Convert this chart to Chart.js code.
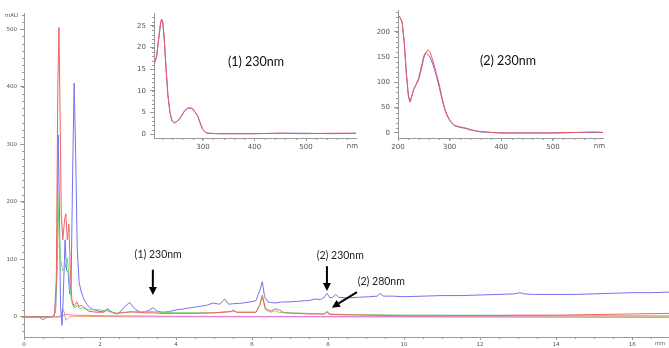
<!DOCTYPE html>
<html><head><meta charset="utf-8">
<script src="https://cdn.jsdelivr.net/npm/chart.js@4"></script>
<style>
html,body{margin:0;padding:0;background:#fff;}
#wrap{position:relative;width:669px;height:348px;overflow:hidden;}
canvas{position:absolute;}
</style></head><body>
<div id="wrap">
<canvas id="main" width="669" height="348" style="left:0;top:0"></canvas>
<canvas id="in1" width="240" height="155" style="left:125px;top:0"></canvas>
<canvas id="in2" width="245" height="155" style="left:370px;top:0"></canvas>
</div>
<script>
// ---------- Chromatogram data (time in min, absorbance in mAU) ----------
const tBlue = [0,0.40,0.45,0.52,0.58,0.65,0.78,0.83,0.87,0.90,0.93,0.96,1.00,1.03,1.08,1.12,1.16,1.20,1.24,1.28,1.32,1.36,1.40,1.45,1.50,1.58,1.65,1.75,1.85,2.00,2.10,2.20,2.30,2.45,2.55,2.65,2.78,2.90,3.05,3.20,3.30,3.40,3.50,3.65,3.80,4.00,4.20,4.40,4.60,4.80,4.97,5.15,5.28,5.38,5.55,5.75,5.95,6.10,6.20,6.27,6.33,6.42,6.60,6.80,7.00,7.20,7.40,7.55,7.65,7.80,7.90,7.97,8.05,8.12,8.20,8.28,8.50,8.80,9.10,9.30,9.37,9.45,9.70,10.0,10.5,11.0,11.5,12.0,12.5,12.9,13.05,13.15,13.4,14.0,14.5,15.0,15.5,16.0,16.5,16.97];
const vBlue = [0,0,-3,-5,-1,0,1,10,80,316,200,20,-15,30,134,80,78,40,60,250,406,280,120,60,45,30,22,15,12,9,10,13,8,5,10,18,25,15,8,9,12,16,10,8,9,12,14,16,18,20,24,22,31,22,23,24,26,28,45,61,35,26,24,26,26,27,28,29,31,30,34,41,33,34,39,34,33,34,35,36,41,36,36,35,36,37,37,38,39,40,42,40,39,39,39,40,41,42,42,43];

const tRed = [0,0.75,0.80,0.85,0.89,0.92,0.95,0.98,1.02,1.07,1.10,1.14,1.18,1.22,1.26,1.32,1.39,1.45,1.52,1.58,1.70,1.90,2.10,2.20,2.28,2.40,2.60,2.80,3.00,3.20,3.40,3.60,4.00,4.50,5.00,5.45,5.50,5.60,6.10,6.20,6.27,6.35,6.50,6.60,6.72,6.85,7.50,7.90,7.97,8.05,9.0,10.0,12.0,13.0,14.0,15.0,16.0,16.97];
const vRed = [0,0,5,60,400,503,350,180,134,170,179,134,161,80,30,18,26,18,20,16,10,8,8,14,10,6,7,9,8,7,7,6,6,6,7,9,12,8,8,20,38,15,10,14,12,7,5,5,8,4,3,2,2,3,3,4,5,6];

const tGreen = [0,0.78,0.83,0.87,0.89,0.92,0.96,1.02,1.08,1.14,1.18,1.22,1.28,1.34,1.40,1.46,1.55,1.70,1.85,2.00,2.20,2.30,2.45,2.60,2.80,3.00,3.40,3.60,4.00,4.50,5.00,5.50,5.60,6.10,6.20,6.27,6.35,6.50,6.60,6.70,7.00,7.50,7.90,7.97,8.05,8.50,10.0,12.0,14.0,16.97];
const vGreen = [0,0,10,120,211,150,100,80,85,102,75,40,20,15,20,14,16,12,13,12,10,8,6,8,8,9,9,8,7,7,7,10,8,8,20,35,12,8,11,8,7,6,5,10,5,4,3,3,2,2];

const tMagenta = [0,0.95,1.00,1.10,1.30,2.00,4.00,8.00,12.0,16.97];
const vMagenta = [0,0,2,4,3,2,1,0.5,0,-1];

const tOrange = [0,0.95,0.98,1.02,1.06,1.10,1.15,1.20,1.30,3.00,8.00,16.97];
const vOrange = [0,0,5,14,8,-6,-3,0,1,0,0,0];

const xTickValues = [0,2,4,6,8,10,12,14,16];
const yTickValues = [0,100,200,300,400,500];

// ---------- UV spectra (wavelength nm, mAU) ----------
const wl1 = [205,210,214,218,220,222,225,228,232,236,240,245,250,255,260,265,270,275,280,285,290,295,300,305,310,330,400,450,500,550,597];
const spec1Red  = [16.4,18,22,26,26.6,26,22,16,9,5,3,2.6,3,3.5,4.5,5.4,5.9,6.1,5.9,5,4.2,2.5,1,0.4,0.2,0.1,0.1,0.2,0.1,0.2,0.2];
const spec1Blue = [16.2,17.8,21.8,25.8,26.4,25.8,21.8,15.8,8.9,5,3,2.6,3,3.6,4.6,5.5,6.0,6.0,5.8,5,4.1,2.4,1,0.4,0.2,0.1,0.1,0.2,0.2,0.1,0.2];
const inset1XTicks = [300,400,500];
const inset1YTicks = [0,5,10,15,20,25];

const wl2 = [200,204,208,212,216,220,223,226,230,235,240,245,250,253,255,258,262,266,270,275,280,285,290,295,300,305,310,320,330,340,350,360,380,400,450,500,550,580,597];
const spec2Red  = [233,228,219,180,120,75,61,70,85,95,105,125,148,156,160,164,160,148,134,115,95,71,50,36,26,19,15,12,10,7,4,3,1,0,0,0,1,2,1];
const spec2Blue = [233,228,219,180,120,75,61,70,85,96,108,130,152,158,158,155,150,140,128,110,90,68,48,34,25,18,14,11,9,6,4,2,1,0,0,0,1,1,1];
const inset2XTicks = [200,300,400,500];
const inset2YTicks = [0,50,100,150,200];

const pts = (xs, ys) => xs.map((x, i) => ({x, y: ys[i]}));

function lineDS(label, xs, ys, color, w) {
  return {label, data: pts(xs, ys), borderColor: color, borderWidth: w || 1,
    pointRadius: 0, fill: false, tension: 0, spanGaps: true};
}

function drawArrow(ctx, x1, y1, x2, y2) {
  const ang = Math.atan2(y2 - y1, x2 - x1);
  const hl = 8, hw = 4;
  const bx = x2 - hl * Math.cos(ang), by = y2 - hl * Math.sin(ang);
  ctx.strokeStyle = '#000'; ctx.fillStyle = '#000'; ctx.lineWidth = 2;
  ctx.beginPath(); ctx.moveTo(x1, y1); ctx.lineTo(bx, by); ctx.stroke();
  ctx.beginPath();
  ctx.moveTo(x2, y2);
  ctx.lineTo(bx + hw * Math.sin(ang), by - hw * Math.cos(ang));
  ctx.lineTo(bx - hw * Math.sin(ang), by + hw * Math.cos(ang));
  ctx.closePath(); ctx.fill();
}

const axisColor = '#9a9a9a';
const tickColor = '#555';

Chart.defaults.animation = false;

// ---------- main chromatogram ----------
const mainDecor = {
  id: 'mainDecor',
  afterDraw(chart) {
    const {ctx, scales: {x, y}} = chart;
    ctx.save();
    ctx.strokeStyle = axisColor; ctx.lineWidth = 1;
    for (let v = -25; v <= 525; v += 12.5) {
      const py = Math.round(y.getPixelForValue(v)) + 0.5;
      ctx.beginPath(); ctx.moveTo(x.left - 2, py); ctx.lineTo(x.left, py); ctx.stroke();
    }
    for (let t = 0.5; t <= 16.9; t += 0.5) {
      const px = Math.round(x.getPixelForValue(t)) + 0.5;
      ctx.beginPath(); ctx.moveTo(px, y.bottom); ctx.lineTo(px, y.bottom + 2); ctx.stroke();
    }
    ctx.fillStyle = tickColor;
    ctx.font = '5.5px "DejaVu Sans"';
    ctx.textBaseline = 'middle';
    ctx.textAlign = 'left';
    ctx.fillText('mAU', 5, 16);
    ctx.fillText('min', x.getPixelForValue(16.6), 344);
    // annotations
    ctx.fillStyle = '#222';
    ctx.font = '10.5px Lato';
    ctx.textAlign = 'center';
    ctx.fillText('(1) 230nm', x.getPixelForValue(3.53), y.getPixelForValue(108));
    ctx.fillText('(2) 230nm', x.getPixelForValue(8.32), y.getPixelForValue(106));
    ctx.textAlign = 'left';
    ctx.fillText('(2) 280nm', x.getPixelForValue(8.78), y.getPixelForValue(61));
    drawArrow(ctx, x.getPixelForValue(3.39), y.getPixelForValue(82), x.getPixelForValue(3.39), y.getPixelForValue(38));
    drawArrow(ctx, x.getPixelForValue(7.97), y.getPixelForValue(88), x.getPixelForValue(7.97), y.getPixelForValue(45));
    drawArrow(ctx, x.getPixelForValue(8.76), y.getPixelForValue(43), x.getPixelForValue(8.1), y.getPixelForValue(16));
    ctx.restore();
  }
};

new Chart(document.getElementById('main'), {
  type: 'line',
  data: {datasets: [
    lineDS('red', tRed, vRed, '#f06262'),
    lineDS('green', tGreen, vGreen, '#66e066'),
    lineDS('blue', tBlue, vBlue, '#7373f0'),
    lineDS('magenta', tMagenta, vMagenta, '#e07ae0'),
    lineDS('orange', tOrange, vOrange, '#f0a060')
  ]},
  options: {
    responsive: false, devicePixelRatio: 1, animation: false,
    layout: {padding: {top: 13, right: 0, left: 0, bottom: 0}},
    plugins: {legend: {display: false}, tooltip: {enabled: false}},
    scales: {
      x: {type: 'linear', min: 0, max: 16.97,
        afterFit(s) { s.height = 11; },
        afterBuildTicks(s) { s.ticks = xTickValues.map(v => ({value: v})); },
        border: {color: axisColor, width: 1},
        grid: {drawOnChartArea: false, tickLength: 3, color: axisColor},
        ticks: {font: {family: 'DejaVu Sans', size: 5.5}, color: tickColor, padding: 1, maxRotation: 0, autoSkip: false}
      },
      y: {type: 'linear', min: -35, max: 528,
        afterFit(s) { s.width = 24; },
        afterBuildTicks(s) { s.ticks = yTickValues.map(v => ({value: v})); },
        border: {color: axisColor, width: 1},
        grid: {drawOnChartArea: false, tickLength: 4, color: axisColor},
        ticks: {font: {family: 'DejaVu Sans', size: 5.5}, color: tickColor, padding: 3}
      }
    }
  },
  plugins: [mainDecor]
});

// ---------- insets ----------
function insetDecor(id, title, tx, ty, minorY, minorX) {
  return {
    id,
    afterDraw(chart) {
      const {ctx, scales: {x, y}} = chart;
      ctx.save();
      ctx.strokeStyle = axisColor; ctx.lineWidth = 1;
      for (let v = minorY[0]; v <= minorY[1]; v += minorY[2]) {
        const py = Math.round(y.getPixelForValue(v)) + 0.5;
        ctx.beginPath(); ctx.moveTo(x.left - 2, py); ctx.lineTo(x.left, py); ctx.stroke();
      }
      for (let v = minorX[0]; v <= minorX[1]; v += minorX[2]) {
        const px = Math.round(x.getPixelForValue(v)) + 0.5;
        ctx.beginPath(); ctx.moveTo(px, y.bottom); ctx.lineTo(px, y.bottom + 2); ctx.stroke();
      }
      ctx.fillStyle = tickColor;
      ctx.font = '7px "DejaVu Sans"';
      ctx.textBaseline = 'middle';
      ctx.textAlign = 'right';
      ctx.fillText('nm', x.right + 2, y.bottom + 8.5);
      ctx.fillStyle = '#111';
      ctx.font = '12.5px Lato';
      ctx.textAlign = 'center';
      ctx.fillText(title, x.getPixelForValue(tx), y.getPixelForValue(ty));
      ctx.restore();
    }
  };
}

function insetChart(canvasId, wl, sRed, sBlue, xmin, xmax, ymin, ymax, xt, yt, yw, pad, decor) {
  new Chart(document.getElementById(canvasId), {
    type: 'line',
    data: {datasets: [
      lineDS('red', wl, sRed, '#f05a5a', 1),
      lineDS('blue', wl, sBlue, '#6a6ae0', 1)
    ]},
    options: {
      responsive: false, devicePixelRatio: 1, animation: false,
      layout: {padding: pad},
      plugins: {legend: {display: false}, tooltip: {enabled: false}},
      scales: {
        x: {type: 'linear', min: xmin, max: xmax,
          afterFit(s) { s.height = 17; },
          afterBuildTicks(s) { s.ticks = xt.map(v => ({value: v})); },
          border: {color: axisColor, width: 1},
          grid: {drawOnChartArea: false, tickLength: 3, color: axisColor},
          ticks: {font: {family: 'DejaVu Sans', size: 7}, color: tickColor, padding: 2, maxRotation: 0, autoSkip: false}
        },
        y: {type: 'linear', min: ymin, max: ymax,
          afterFit(s) { s.width = yw; },
          afterBuildTicks(s) { s.ticks = yt.map(v => ({value: v})); },
          border: {color: axisColor, width: 1},
          grid: {drawOnChartArea: false, tickLength: 4, color: axisColor},
          ticks: {font: {family: 'DejaVu Sans', size: 7}, color: tickColor, padding: 4}
        }
      }
    },
    plugins: [decor]
  });
}

insetChart('in1', wl1, spec1Red, spec1Blue, 205, 597, -0.9, 28, inset1XTicks, inset1YTicks, 29,
  {top: 13, right: 9, left: 0, bottom: 0},
  insetDecor('d1', '(1) 230nm', 403, 16.7, [1, 27, 1], [220, 580, 20]));
insetChart('in2', wl2, spec2Red, spec2Blue, 200, 597, -10, 243, inset2XTicks, inset2YTicks, 28,
  {top: 10, right: 12, left: 0, bottom: 0},
  insetDecor('d2', '(2) 230nm', 413, 142, [10, 240, 10], [220, 580, 20]));
</script>
</body></html>
